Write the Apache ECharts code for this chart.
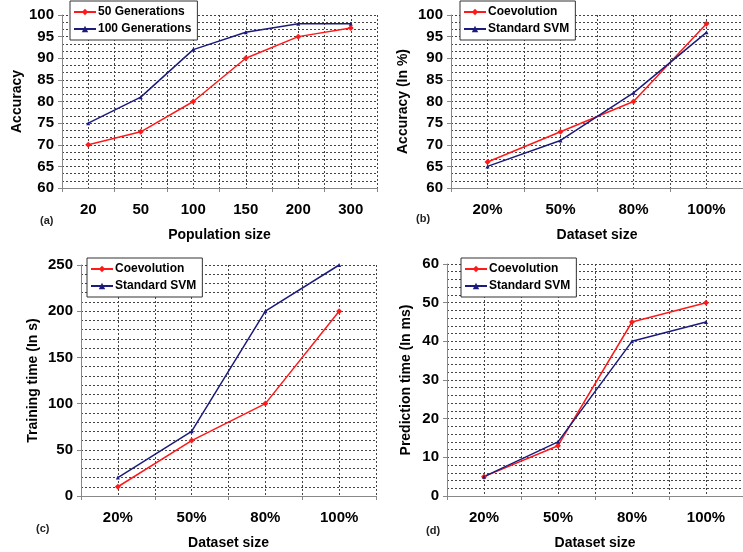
<!DOCTYPE html>
<html>
<head>
<meta charset="utf-8">
<script src="https://cdn.jsdelivr.net/npm/echarts@6/dist/echarts.min.js"></script>
<style>
  html, body { margin: 0; padding: 0; background: #fff; }
  #chart { width: 743px; height: 552px; }
</style>
</head>
<body>
<div id="chart"></div>
<script>
var popSizes = ['20', '50', '100', '150', '200', '300'];
var gen50 = [70, 73, 80, 90, 95, 97];
var gen100 = [75, 81, 92, 96, 98, 98];

var datasetSizes = ['20%', '50%', '80%', '100%'];
var accCoev = [66, 73, 80, 98];
var accSvm = [65, 71, 82, 96];
var trainCoev = [10, 60, 100, 200];
var trainSvm = [20, 70, 200, 250];
var predCoev = [5, 13, 45, 50];
var predSvm = [5, 14, 40, 45];

var RED = '#ff1a1a';
var BLUE = '#1c1c7c';
var FONT = 'Liberation Sans, Arial, sans-serif';
var dotted = { color: '#444', width: 1, type: [2, 2] };

var myChart = echarts.init(document.getElementById('chart'));

var grids = [], xAxes = [], yAxes = [], series = [], legends = [], texts = [];

// one panel = grid + category axis + hidden value axis (only for the half-step vertical grid lines) + y axis
function addPanel(p) {
    var k = grids.length;
    grids.push({ left: p.box[0], top: p.box[1], width: p.box[2], height: p.box[3] });
    xAxes.push({
        type: 'category', gridIndex: k, data: p.cats, boundaryGap: true,
        name: p.xName, nameLocation: 'middle', nameGap: 40,
        nameTextStyle: { fontFamily: FONT, fontWeight: 'bold', fontSize: 14, color: '#000' },
        axisLine: { lineStyle: { color: '#888', width: 1 } },
        axisTick: { show: true, length: 4, lineStyle: { color: '#888' } },
        axisLabel: { margin: 14, fontFamily: FONT, fontWeight: 'bold', fontSize: 15, color: '#000' },
        splitLine: { show: false }
    });
    xAxes.push({
        type: 'value', gridIndex: k, min: 0, max: p.cats.length * 2, interval: 1,
        show: true, axisLine: { show: false }, axisTick: { show: false }, axisLabel: { show: false },
        splitLine: { show: true, lineStyle: dotted }
    });
    yAxes.push({
        type: 'value', gridIndex: k, min: p.yMin, max: p.yMax, interval: p.yStep,
        name: p.yName, nameLocation: 'middle', nameRotate: 90, nameGap: p.nameGap,
        nameTextStyle: { fontFamily: FONT, fontWeight: 'bold', fontSize: 14, color: '#000' },
        axisLine: { show: true, lineStyle: { color: '#888', width: 1 } },
        axisTick: { show: true, length: 4, lineStyle: { color: '#888' } },
        axisLabel: { margin: 8, fontFamily: FONT, fontWeight: 'bold', fontSize: 15, color: '#000' },
        splitLine: { show: true, lineStyle: dotted },
        minorTick: { show: false, splitNumber: p.minor },
        minorSplitLine: { show: true, lineStyle: dotted }
    });
    p.lines.forEach(function (s) {
        series.push({
            type: 'line', name: s.name, data: s.data,
            xAxisIndex: k * 2, yAxisIndex: k,
            symbol: s.symbol, symbolSize: s.size,
            itemStyle: { color: s.color },
            lineStyle: { color: s.color, width: 1.5 },
            z: 3
        });
    });
    legends.push({
        orient: 'vertical', left: p.legend[0], top: p.legend[1],
        data: p.lines.map(function (s) { return s.name; }),
        backgroundColor: '#fff', borderColor: '#333', borderWidth: 1,
        padding: [5, 6, 5, 3], itemGap: 5, itemWidth: 22, itemHeight: 8,
        selectedMode: false,
        textStyle: { fontFamily: FONT, fontWeight: 'bold', fontSize: 12, color: '#000', padding: [0, 0, 0, -3] }
    });
    texts.push({
        type: 'text', left: p.tag[0], top: p.tag[1],
        style: { text: p.tagText, font: 'bold 11px ' + FONT, fill: '#222' }
    });
}

addPanel({
    box: [62, 15, 315, 173], cats: popSizes, xName: 'Population size', yName: 'Accuracy',
    yMin: 60, yMax: 100, yStep: 5, minor: 3, nameGap: 38,
    legend: [70, 1], tag: [40, 215], tagText: '(a)',
    lines: [
        { name: '50 Generations', data: gen50, color: RED, symbol: 'diamond', size: 6 },
        { name: '100 Generations', data: gen100, color: BLUE, symbol: 'triangle', size: 4 }
    ]
});
addPanel({
    box: [451, 15, 294, 173], cats: datasetSizes, xName: 'Dataset size', yName: 'Accuracy (In %)',
    yMin: 60, yMax: 100, yStep: 5, minor: 3, nameGap: 41,
    legend: [460, 1], tag: [416, 213], tagText: '(b)',
    lines: [
        { name: 'Coevolution', data: accCoev, color: RED, symbol: 'diamond', size: 6 },
        { name: 'Standard SVM', data: accSvm, color: BLUE, symbol: 'triangle', size: 4 }
    ]
});
addPanel({
    box: [81, 265, 295, 231], cats: datasetSizes, xName: 'Dataset size', yName: 'Training time (In s)',
    yMin: 0, yMax: 250, yStep: 50, minor: 5, nameGap: 41,
    legend: [87, 258], tag: [36, 523], tagText: '(c)',
    lines: [
        { name: 'Coevolution', data: trainCoev, color: RED, symbol: 'diamond', size: 6 },
        { name: 'Standard SVM', data: trainSvm, color: BLUE, symbol: 'triangle', size: 4 }
    ]
});
addPanel({
    box: [447, 264, 301, 232], cats: datasetSizes, xName: 'Dataset size', yName: 'Prediction time (In ms)',
    yMin: 0, yMax: 60, yStep: 10, minor: 5, nameGap: 34,
    legend: [461, 258], tag: [426, 525], tagText: '(d)',
    lines: [
        { name: 'Coevolution', data: predCoev, color: RED, symbol: 'diamond', size: 6 },
        { name: 'Standard SVM', data: predSvm, color: BLUE, symbol: 'triangle', size: 4 }
    ]
});

option = {
    animation: false,
    backgroundColor: '#fff',
    grid: grids,
    xAxis: xAxes,
    yAxis: yAxes,
    legend: legends,
    series: series,
    graphic: texts
};

myChart.setOption(option);
</script>
</body>
</html>
